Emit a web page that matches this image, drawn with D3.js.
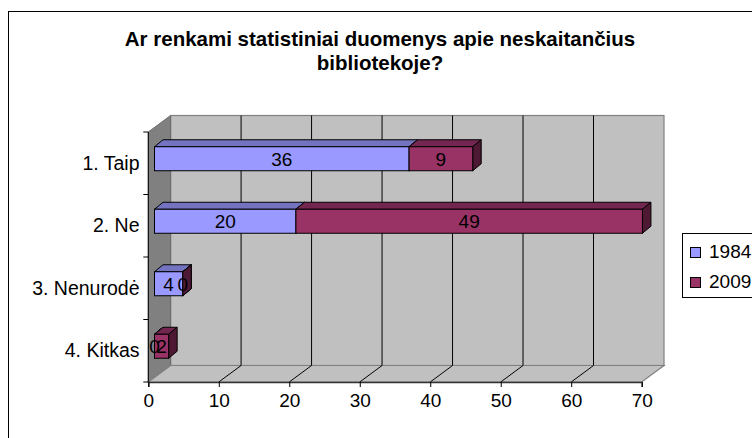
<!DOCTYPE html>
<html>
<head>
<meta charset="utf-8">
<script src="https://cdn.jsdelivr.net/npm/d3@7/dist/d3.min.js"></script>
<style>
  html, body { margin: 0; padding: 0; background: #fff; }
  svg { display: block; font-family: "Liberation Sans", Arial, sans-serif; }
</style>
</head>
<body>
<svg id="chart" width="752" height="438"></svg>
<script>
// Survey answers: are statistics collected on non-readers in the library?
const categories = ["1. Taip", "2. Ne", "3. Nenurodė", "4. Kitkas"];
const seriesNames = ["1984", "2009"];
const values1984 = [36, 20, 4, 0];
const values2009 = [9, 49, 0, 2];
const xTicks = [0, 10, 20, 30, 40, 50, 60, 70];
const titleLines = ["Ar renkami statistiniai duomenys apie neskaitančius", "bibliotekoje?"];

const frontColors = ["#9999FF", "#993366"];
const topColors = ["#7373BF", "#732650"];
const sideColors = ["#4D4D80", "#4D1933"];

const svg = d3.select("#chart");

// Outer chart frame (continues past the right and bottom edges)
svg.append("rect")
  .attr("x", 8.5).attr("y", 11.5)
  .attr("width", 800).attr("height", 500)
  .attr("fill", "#fff").attr("stroke", "#000").attr("stroke-width", 1);

// Title
svg.append("text")
  .attr("text-anchor", "middle")
  .attr("font-weight", "bold")
  .attr("font-size", 20.5)
  .selectAll("tspan")
  .data(titleLines)
  .join("tspan")
  .attr("x", 380)
  .attr("y", (d, i) => 46 + i * 24)
  .text(d => d);

// 3D box geometry (oblique projection)
const front = { left: 148.3, right: 641.7, top: 132, bottom: 382 };
const depth = { dx: 22.3, dy: -16.5 };

const xFront = d3.scaleLinear().domain([0, 70]).range([front.left, front.right]);
const xBack = d3.scaleLinear().domain([0, 70]).range([front.left + depth.dx, front.right + depth.dx]);
const xBar = d3.scaleLinear().domain([0, 70]).range([154.5, 649.5]);
const yBand = d3.scaleBand().domain(categories).range([front.top, front.bottom]);

const backTop = front.top + depth.dy;
const backBottom = front.bottom + depth.dy;
const wallEdge = "#808080";

// Back wall
svg.append("rect")
  .attr("x", xBack(0)).attr("y", backTop)
  .attr("width", xBack(70) - xBack(0)).attr("height", backBottom - backTop)
  .attr("fill", "#C0C0C0").attr("stroke", wallEdge).attr("stroke-width", 1.2);

// Left side wall
svg.append("polygon")
  .attr("points", [
    [xFront(0), front.top], [xBack(0), backTop],
    [xBack(0), backBottom], [xFront(0), front.bottom]
  ].map(p => p.join(",")).join(" "))
  .attr("fill", "#808080").attr("stroke", "#6a6a6a").attr("stroke-width", 1);

// Floor
svg.append("polygon")
  .attr("points", [
    [xFront(0), front.bottom], [xBack(0), backBottom],
    [xBack(70), backBottom], [xFront(70), front.bottom]
  ].map(p => p.join(",")).join(" "))
  .attr("fill", "#C0C0C0").attr("stroke", wallEdge).attr("stroke-width", 1.2);

// Gridlines on back wall and floor
const gridVals = xTicks.filter(v => v > 0 && v < 70);
svg.append("g").selectAll("line.back")
  .data(gridVals).join("line")
  .attr("x1", d => xBack(d)).attr("x2", d => xBack(d))
  .attr("y1", backTop).attr("y2", backBottom)
  .attr("stroke", "#000").attr("stroke-width", 1);
svg.append("g").selectAll("line.floor")
  .data(gridVals).join("line")
  .attr("x1", d => xFront(d)).attr("y1", front.bottom)
  .attr("x2", d => xBack(d)).attr("y2", backBottom)
  .attr("stroke", "#000").attr("stroke-width", 1);

// Category axis (front-left edge)
svg.append("line")
  .attr("x1", xFront(0)).attr("x2", xFront(0))
  .attr("y1", front.top).attr("y2", front.bottom)
  .attr("stroke", "#000");
const catTicks = categories.map(c => yBand(c)).concat([front.bottom]);
svg.append("g").selectAll("line")
  .data(catTicks).join("line")
  .attr("x1", xFront(0) - 5).attr("x2", xFront(0))
  .attr("y1", d => d).attr("y2", d => d)
  .attr("stroke", "#000");
svg.append("g").selectAll("text")
  .data(categories).join("text")
  .attr("x", 139.5)
  .attr("y", c => yBand(c) + yBand.bandwidth() / 2 + 6.5)
  .attr("text-anchor", "end")
  .attr("font-size", 19.5)
  .text(c => c);

// Value axis along the front floor edge
const xAxis = d3.axisBottom(xFront).tickValues(xTicks).tickSize(5).tickPadding(6);
const gx = svg.append("g").attr("transform", `translate(0,${front.bottom})`).call(xAxis);
gx.select(".domain").attr("stroke", "#333").attr("stroke-width", 1.5);
gx.selectAll(".tick line").attr("stroke", "#000");
gx.selectAll(".tick text").attr("font-size", 19).attr("font-family", "Liberation Sans, Arial, sans-serif").attr("fill", "#000").attr("dy", "0.72em");

// Stacked 3D bars
const rows = categories.map((c, i) => ({ cat: c, "1984": values1984[i], "2009": values2009[i] }));
const stacked = d3.stack().keys(seriesNames)(rows);
const barH = 24;
const bdx = 8.5, bdy = -7;
const barY = c => yBand(c) + (yBand.bandwidth() - barH) / 2 - 4.5;

const barsG = svg.append("g");
categories.forEach((c, ci) => {
  stacked.forEach((layer, si) => {
    const [v0, v1] = layer[ci];
    const x0 = xBar(v0), x1 = xBar(v1), y = barY(c);
    const g = barsG.append("g");
    // top face
    g.append("polygon")
      .attr("points", [[x0, y], [x0 + bdx, y + bdy], [x1 + bdx, y + bdy], [x1, y]].map(p => p.join(",")).join(" "))
      .attr("fill", topColors[si]).attr("stroke", "#000").attr("stroke-width", 1).attr("stroke-linejoin", "round");
    // right side face
    g.append("polygon")
      .attr("points", [[x1, y], [x1 + bdx, y + bdy], [x1 + bdx, y + bdy + barH], [x1, y + barH]].map(p => p.join(",")).join(" "))
      .attr("fill", sideColors[si]).attr("stroke", "#000").attr("stroke-width", 1).attr("stroke-linejoin", "round");
    // front face
    g.append("rect")
      .attr("x", x0).attr("y", y).attr("width", x1 - x0).attr("height", barH)
      .attr("fill", frontColors[si]).attr("stroke", "#000").attr("stroke-width", 1);
  });
});

// Value labels centred on each segment's front face
const labelG = svg.append("g");
stacked.forEach((layer, si) => {
  layer.forEach((d, ci) => {
    const value = d[1] - d[0];
    labelG.append("text")
      .attr("x", (xBar(d[0]) + xBar(d[1])) / 2)
      .attr("y", barY(categories[ci]) + barH / 2 + 7)
      .attr("text-anchor", "middle")
      .attr("font-size", 19)
      .attr("fill", "#000")
      .text(value);
  });
});

// Legend
const legend = svg.append("g");
legend.append("rect")
  .attr("x", 682.5).attr("y", 233.5).attr("width", 100).attr("height", 64)
  .attr("fill", "#fff").attr("stroke", "#000");
seriesNames.forEach((s, i) => {
  legend.append("rect")
    .attr("x", 690.5).attr("y", 247.5 + i * 30).attr("width", 10).attr("height", 10)
    .attr("fill", frontColors[i]).attr("stroke", "#000");
  legend.append("text")
    .attr("x", 709).attr("y", 257.5 + i * 30)
    .attr("font-size", 19)
    .text(s);
});
</script>
</body>
</html>
